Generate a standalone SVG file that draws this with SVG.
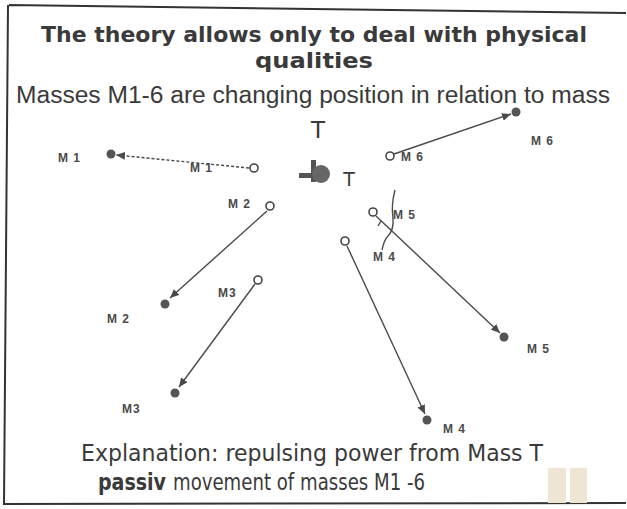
<svg xmlns="http://www.w3.org/2000/svg" width="627" height="509" viewBox="0 0 627 509">
<defs>
<style>
.t{font-family:"DejaVu Sans",Verdana,sans-serif;fill:#3a3a3a}
.h{font-weight:bold;font-size:22px}
.b{font-size:23px}
.s{font-family:"Liberation Sans",Arial,sans-serif;font-size:23px;fill:#3a3a3a}
.lb{font-family:"Liberation Sans",Arial,sans-serif;font-weight:bold;font-size:12px;fill:#4a4a4a;letter-spacing:1px}
.ln{stroke:#4a4a4a;stroke-width:1.4;fill:none}
.oc{fill:#fff;stroke:#444;stroke-width:1.6}
.fd{fill:#555}
</style>
<marker id="ah" markerUnits="userSpaceOnUse" markerWidth="10" markerHeight="8" refX="9" refY="4" orient="auto">
<path d="M0,0 L9,4 L0,8 Z" fill="#4a4a4a"/>
</marker>
</defs>
<rect width="627" height="509" fill="#fff"/>
<path d="M9,5 L626,13 M8,5 L4,504 L626,503" fill="none" stroke="#333" stroke-width="2"/>
<rect x="548" y="468" width="18" height="35" fill="#efe5d3"/>
<rect x="570" y="468" width="17" height="35" fill="#efe5d3"/>
<g id="texts">
<text class="t h" x="314" y="42" text-anchor="middle" textLength="546" lengthAdjust="spacingAndGlyphs">The theory allows only to deal with physical</text>
<text class="t h" x="314" y="68" text-anchor="middle" textLength="118" lengthAdjust="spacingAndGlyphs">qualities</text>
<text class="s" x="313" y="103" text-anchor="middle" textLength="594" lengthAdjust="spacingAndGlyphs">Masses M1-6 are changing position in relation to mass</text>
<text class="t b" x="318" y="138" text-anchor="middle">T</text>
<text class="t b" x="312" y="461" text-anchor="middle" textLength="462" lengthAdjust="spacingAndGlyphs">Explanation: repulsing power from Mass T</text>
<text class="t b" x="98" y="490" font-weight="bold" textLength="68" lengthAdjust="spacingAndGlyphs">passiv</text>
<text class="t b" x="173" y="490" textLength="252" lengthAdjust="spacingAndGlyphs">movement of masses M1 -6</text>
</g>
<g id="connectors">
<line class="ln" x1="249" y1="168" x2="116" y2="155" stroke-dasharray="3 2" marker-end="url(#ah)"/>
<line class="ln" x1="267" y1="211" x2="170" y2="298" marker-end="url(#ah)"/>
<line class="ln" x1="255" y1="284" x2="179" y2="387" marker-end="url(#ah)"/>
<line class="ln" x1="347" y1="246" x2="425" y2="414" marker-end="url(#ah)"/>
<line class="ln" x1="376" y1="216" x2="500" y2="333" marker-end="url(#ah)"/>
<line class="ln" x1="394" y1="154" x2="511" y2="114" marker-end="url(#ah)"/>
<path class="ln" d="M395,190 Q391,205 393,218 Q394,230 388,236 Q384,240 382,250"/>
<path class="ln" d="M381,221 L378,226"/>
</g>
<g id="T">
<rect x="299" y="173" width="18" height="5" fill="#555"/>
<rect x="311" y="160" width="5" height="22" fill="#555"/>
<circle cx="321" cy="174" r="9" fill="#666"/>
<text class="t" x="349" y="186" font-size="19" text-anchor="middle">T</text>
</g>
<g id="M1">
<circle class="fd" cx="111" cy="154" r="4.5"/>
<circle class="oc" cx="254" cy="168" r="4"/>
<text class="lb" x="58" y="162">M 1</text>
<text class="lb" x="190" y="172">M 1</text>
</g>
<g id="M2">
<circle class="fd" cx="165" cy="304" r="4.5"/>
<circle class="oc" cx="270" cy="206" r="4"/>
<text class="lb" x="228" y="208">M 2</text>
<text class="lb" x="107" y="323">M 2</text>
</g>
<g id="M3">
<circle class="fd" cx="175" cy="393" r="4.5"/>
<circle class="oc" cx="258" cy="280" r="4"/>
<text class="lb" x="218" y="297">M3</text>
<text class="lb" x="122" y="413">M3</text>
</g>
<g id="M4">
<circle class="fd" cx="427" cy="420" r="4.5"/>
<circle class="oc" cx="345" cy="241" r="4"/>
<text class="lb" x="373" y="261">M 4</text>
<text class="lb" x="443" y="433">M 4</text>
</g>
<g id="M5">
<circle class="fd" cx="504" cy="337" r="4.5"/>
<circle class="oc" cx="373" cy="212" r="4"/>
<text class="lb" x="393" y="219">M 5</text>
<text class="lb" x="527" y="353">M 5</text>
</g>
<g id="M6">
<circle class="fd" cx="516" cy="112" r="4.5"/>
<circle class="oc" cx="390" cy="156" r="4"/>
<text class="lb" x="401" y="161">M 6</text>
<text class="lb" x="531" y="145">M 6</text>
</g>
</svg>
